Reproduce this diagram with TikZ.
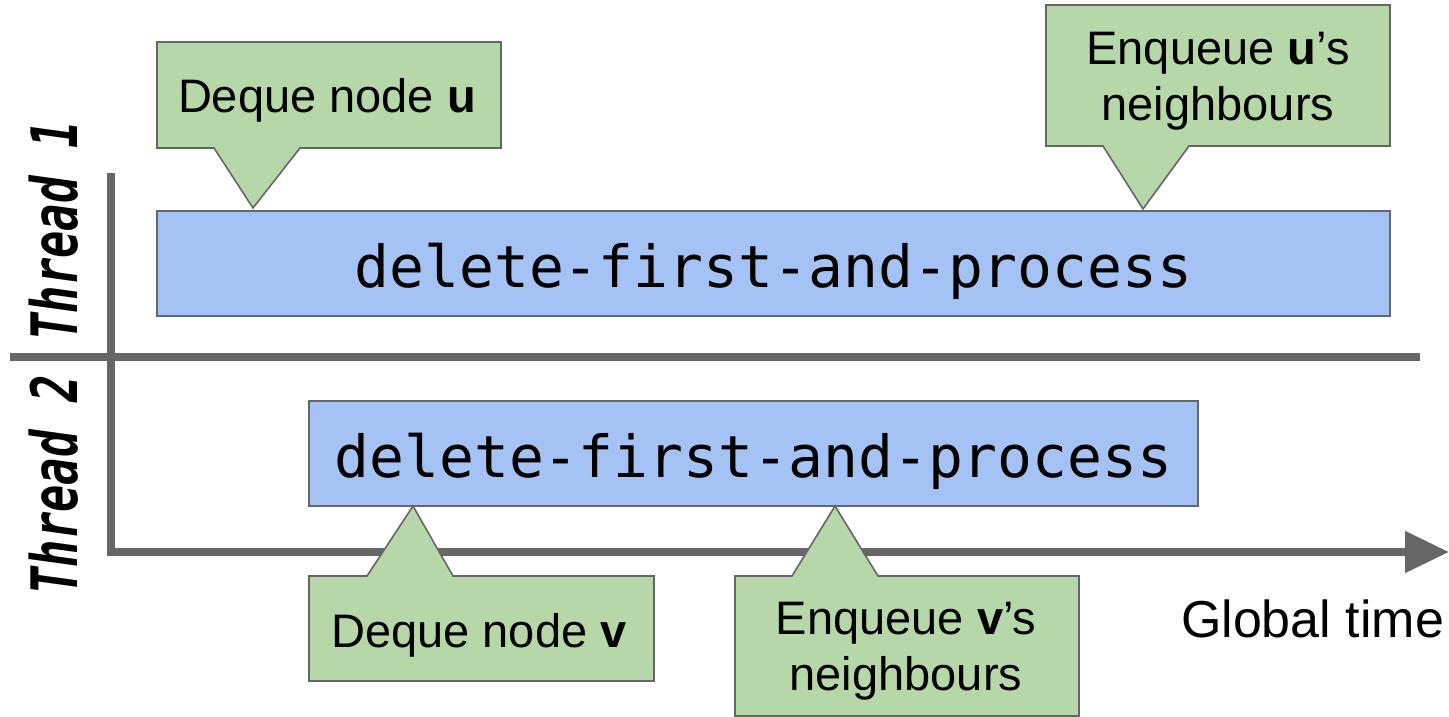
\documentclass[tikz,border=0pt]{standalone}
\usepackage{graphicx}
\usepackage{fontspec}
\setmainfont{Liberation Sans}
\newfontfamily\codefont{DejaVu Sans Mono}
\usetikzlibrary{arrows.meta}
\definecolor{procblue}{HTML}{A4C2F4}
\definecolor{notegreen}{HTML}{B6D7A8}
\definecolor{edgegray}{HTML}{666666}
\definecolor{axisgray}{HTML}{666666}

\begin{document}
\begin{tikzpicture}[x=1pt,y=-1pt,
  axisline/.style={draw=axisgray, line width=8pt},
  procbox/.style={draw=edgegray, line width=1.6pt, fill=procblue, inner sep=0pt,
    text height=76pt, text depth=29pt, minimum height=105pt,
    font=\codefont\fontsize{58}{58}\selectfont},
  noteshape/.style={draw=edgegray, line width=1.6pt, fill=notegreen, line join=miter},
  notebody/.style={inner sep=0pt, font=\fontsize{47}{56}\selectfont},
  notetext/.style={inner sep=0pt, align=center, font=\fontsize{47}{56}\selectfont},
  threadlabel/.style={rotate=90, anchor=base, inner sep=0pt,
    font=\codefont\bfseries\itshape\fontsize{64}{64}\selectfont}
]
\useasboundingbox (0,0) rectangle (1449,717);

% axes and thread separator
\coordinate (ytop) at (111,173);
\coordinate (tend) at (1449,552);
\coordinate (sepl) at (10,357);
\coordinate (sepr) at (1420,357);
\draw[axisline] (sepl) -- (sepr);
\draw[axisline, line join=miter, -{Triangle[length=44pt,width=40pt]}] (ytop) |- (tend);

% thread labels
\node[threadlabel] (th1) at (77,231) {\scalebox{0.71}[1]{Thread 1}};
\node[threadlabel] (th2) at (77,485) {\scalebox{0.71}[1]{Thread 2}};

% process bars
\node[procbox, minimum width=1233pt] (b1) at (773.5,263.5) {delete-first-and-process};
\node[procbox, minimum width=889pt] (b2) at (753.5,453.5) {delete-first-and-process};

% callout: Deque node u
\coordinate (p1) at (253,208);
\path[noteshape] (157,42) -- (501,42) -- (501,148) -- (300,148) -- (p1) -- (214,148) -- (157,148) -- cycle;
\node[notebody, minimum width=344pt, text height=70pt, text depth=36pt] (c1) at (327,95) {Deque node \textbf{u}};

% callout: Enqueue u's neighbours
\coordinate (p2) at (1143,209);
\path[noteshape] (1046,5) -- (1390,5) -- (1390,146) -- (1189,146) -- (p2) -- (1103,146) -- (1046,146) -- cycle;
\node[notetext] (c2) at (1218,81) {Enqueue \textbf{u}’s\\neighbours};

% callout: Deque node v
\coordinate (p3) at (413,506);
\path[noteshape] (309,681) -- (309,576) -- (367,576) -- (p3) -- (453,576) -- (654,576) -- (654,681) -- cycle;
\node[notebody, minimum width=344pt, text height=71pt, text depth=34pt] (c3) at (479,628.5) {Deque node \textbf{v}};

% callout: Enqueue v's neighbours
\coordinate (p4) at (835,506);
\path[noteshape] (735,716) -- (735,576) -- (792,576) -- (p4) -- (878,576) -- (1079,576) -- (1079,716) -- cycle;
\node[notetext] (c4) at (906,651) {Enqueue \textbf{v}’s\\neighbours};

% axis caption
\node[anchor=base, inner sep=0pt, font=\fontsize{52}{52}\selectfont] (gt) at (1312.5,637) {Global time};
\end{tikzpicture}
\end{document}
